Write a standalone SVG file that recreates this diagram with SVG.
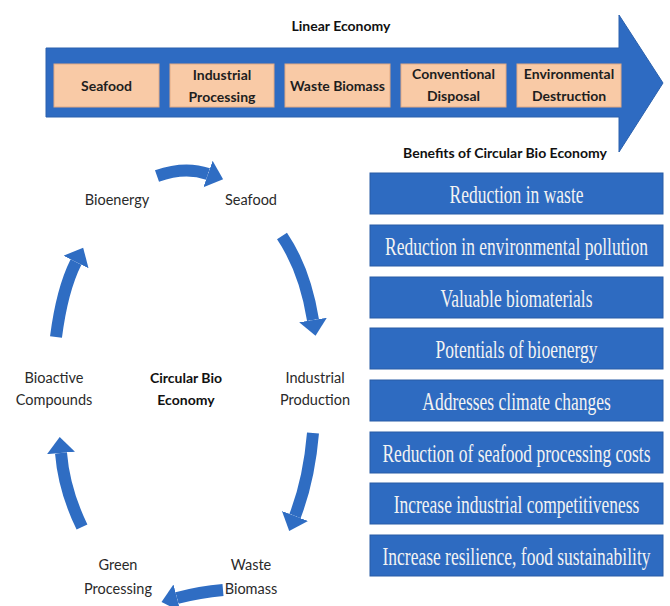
<svg xmlns="http://www.w3.org/2000/svg" width="670" height="606" viewBox="0 0 670 606">
<defs>
<style>
.bg{fill:#ffffff}
.band{fill:#2e6bc2;stroke:#2a60ad;stroke-width:1}
.peach{fill:#f9caa6;stroke:#e2aa83;stroke-width:1}
.blab{font-family:Lato,"Liberation Sans",sans-serif;font-weight:bold;font-size:14px;fill:#1e1e1e;text-anchor:middle}
.head{font-family:Lato,"Liberation Sans",sans-serif;font-weight:bold;font-size:14px;fill:#111;text-anchor:middle}
.clab{font-family:Lato,"Liberation Sans",sans-serif;font-size:14.5px;fill:#2a2a2a;text-anchor:middle}
.cbold{font-family:Lato,"Liberation Sans",sans-serif;font-weight:bold;font-size:14px;fill:#111;text-anchor:middle}
.ben{fill:#2e6bc1;stroke:#285ca6;stroke-width:1}
.btxt{font-family:"Liberation Serif","Times New Roman",serif;font-size:25px;fill:#f3f3f3;text-anchor:middle}
.arc{fill:none;stroke:#2f6dc3;stroke-width:12;stroke-linecap:butt}
</style>
<marker id="ah" markerUnits="userSpaceOnUse" markerWidth="18" markerHeight="30" refX="0" refY="14" orient="auto" viewBox="0 0 18 30">
<path d="M0,0 L16,14 L0,28 z" fill="#2f6dc3"/>
</marker>
</defs>
<rect class="bg" x="0" y="0" width="670" height="606"/>

<g id="linear-economy">
<text class="head" x="341" y="31">Linear Economy</text>
<polygon class="band" points="46,48 619,48 619,15 663,83 619,152 619,117 46,117"/>
</g>
<g id="lin-seafood">
<rect class="peach" x="54" y="64" width="105" height="43"/>
<text class="blab" x="106.5" y="91">Seafood</text>
</g>
<g id="lin-industrial">
<rect class="peach" x="170" y="64" width="104" height="43"/>
<text class="blab" x="222" y="80">Industrial</text>
<text class="blab" x="222" y="102">Processing</text>
</g>
<g id="lin-waste">
<rect class="peach" x="285" y="64" width="105" height="43"/>
<text class="blab" x="337.5" y="91">Waste Biomass</text>
</g>
<g id="lin-disposal">
<rect class="peach" x="401" y="64" width="105" height="43"/>
<text class="blab" x="453.5" y="79">Conventional</text>
<text class="blab" x="453.5" y="101">Disposal</text>
</g>
<g id="lin-destruction">
<rect class="peach" x="517" y="64" width="104" height="43"/>
<text class="blab" x="569" y="79">Environmental</text>
<text class="blab" x="569" y="101">Destruction</text>
</g>

<g id="circ-center">
<text class="cbold" x="186" y="383">Circular Bio</text>
<text class="cbold" x="186" y="405">Economy</text>
</g>
<g id="circ-bioenergy"><text class="clab" x="117" y="205">Bioenergy</text></g>
<g id="circ-seafood"><text class="clab" x="251" y="205">Seafood</text></g>
<g id="circ-industrial">
<text class="clab" x="315" y="383">Industrial</text>
<text class="clab" x="315" y="405">Production</text>
</g>
<g id="circ-waste">
<text class="clab" x="251" y="570">Waste</text>
<text class="clab" x="251" y="594">Biomass</text>
</g>
<g id="circ-green">
<text class="clab" x="118" y="570">Green</text>
<text class="clab" x="118" y="594">Processing</text>
</g>
<g id="circ-bioactive">
<text class="clab" x="54" y="383">Bioactive</text>
<text class="clab" x="54" y="405">Compounds</text>
</g>

<g id="connectors">
<path class="arc" marker-end="url(#ah)" d="M157,176 Q185,166 208,174"/>
<path class="arc" marker-end="url(#ah)" d="M282,236 Q305,270 313,320"/>
<path class="arc" marker-end="url(#ah)" d="M313,433 Q309,480 295,516"/>
<path class="arc" marker-end="url(#ah)" d="M223,590 Q200,592 177,598"/>
<path class="arc" marker-end="url(#ah)" d="M82,527 Q64,490 61,453"/>
<path class="arc" marker-end="url(#ah)" d="M56,337 Q62,290 76,262"/>
</g>

<g id="benefits-title"><text class="head" x="505" y="158">Benefits of Circular Bio Economy</text></g>
<g id="ben-1"><rect class="ben" x="370" y="173" width="293" height="41"/><text class="btxt" transform="translate(516.5,202.5) scale(0.70,1)">Reduction in waste</text></g>
<g id="ben-2"><rect class="ben" x="370" y="225" width="293" height="41"/><text class="btxt" transform="translate(516.5,254.5) scale(0.70,1)">Reduction in environmental pollution</text></g>
<g id="ben-3"><rect class="ben" x="370" y="277" width="293" height="41"/><text class="btxt" transform="translate(516.5,306.5) scale(0.70,1)">Valuable biomaterials</text></g>
<g id="ben-4"><rect class="ben" x="370" y="328" width="293" height="41"/><text class="btxt" transform="translate(516.5,357.5) scale(0.70,1)">Potentials of bioenergy</text></g>
<g id="ben-5"><rect class="ben" x="370" y="380" width="293" height="41"/><text class="btxt" transform="translate(516.5,409.5) scale(0.70,1)">Addresses climate changes</text></g>
<g id="ben-6"><rect class="ben" x="370" y="432" width="293" height="41"/><text class="btxt" transform="translate(516.5,461.5) scale(0.70,1)">Reduction of seafood processing costs</text></g>
<g id="ben-7"><rect class="ben" x="370" y="483" width="293" height="41"/><text class="btxt" transform="translate(516.5,512.5) scale(0.70,1)">Increase industrial competitiveness</text></g>
<g id="ben-8"><rect class="ben" x="370" y="535" width="293" height="41"/><text class="btxt" transform="translate(516.5,564.5) scale(0.70,1)">Increase resilience, food sustainability</text></g>
</svg>
